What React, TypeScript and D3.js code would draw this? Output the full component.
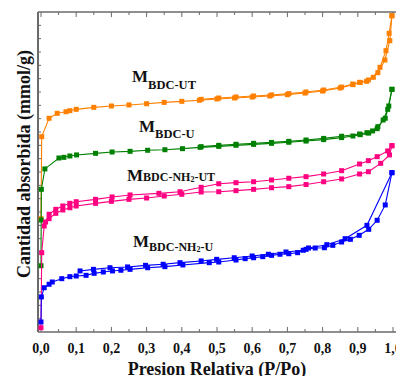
import React from "react";
import * as d3 from "d3";

// isotherm data [P/Po, amount]
const utAds = [[0, 8.5], [0.002, 14.65], [0.023, 16.03], [0.046, 16.4], [0.071, 16.52], [0.082, 16.6], [0.1, 16.7], [0.15, 16.85], [0.2, 16.95], [0.25, 17.03], [0.3, 17.12], [0.35, 17.22], [0.4, 17.3], [0.45, 17.38], [0.5, 17.48], [0.55, 17.55], [0.6, 17.62], [0.65, 17.7], [0.7, 17.8], [0.75, 17.92], [0.8, 18.07], [0.85, 18.3], [0.886, 18.55], [0.907, 18.72], [0.93, 18.9], [0.957, 19.45], [0.977, 20.4], [0.991, 21.85], [0.997, 23.72]];
const utDes = [[0.997, 23.72], [0.989, 22.4], [0.98, 21.1], [0.963, 19.85], [0.944, 19.1], [0.925, 18.8], [0.905, 18.72], [0.886, 18.6], [0.854, 18.37], [0.803, 18.15], [0.753, 18.0], [0.704, 17.88], [0.655, 17.78], [0.604, 17.7], [0.554, 17.63], [0.505, 17.55], [0.455, 17.45]];

const uAds = [[0, 4.97], [0.0005, 8.4], [0.001, 10.7], [0.011, 12.23], [0.051, 13.05], [0.065, 13.1], [0.082, 13.2], [0.101, 13.28], [0.155, 13.4], [0.202, 13.5], [0.253, 13.55], [0.303, 13.63], [0.352, 13.67], [0.402, 13.75], [0.452, 13.85], [0.505, 13.92], [0.554, 14.0], [0.604, 14.07], [0.655, 14.15], [0.704, 14.23], [0.753, 14.32], [0.803, 14.43], [0.854, 14.58], [0.886, 14.7], [0.907, 14.8], [0.931, 14.92], [0.955, 15.25], [0.972, 15.9], [0.985, 16.7], [0.997, 18.2]];
const uDes = [[0.997, 18.2], [0.988, 16.95], [0.978, 16.03], [0.957, 15.4], [0.942, 15.08], [0.926, 14.95], [0.905, 14.85], [0.854, 14.68], [0.803, 14.52], [0.753, 14.4], [0.704, 14.3], [0.655, 14.22], [0.604, 14.15], [0.554, 14.08], [0.505, 14.0], [0.455, 13.9]];

const nh2utAds = [[0, 0.32], [0.002, 5.95], [0.009, 7.95], [0.023, 8.5], [0.042, 8.9], [0.062, 9.15], [0.082, 9.32], [0.1, 9.45], [0.155, 9.65], [0.2, 9.8], [0.25, 9.95], [0.3, 10.05], [0.35, 10.2], [0.4, 10.33], [0.455, 10.5], [0.505, 10.52], [0.554, 10.6], [0.604, 10.7], [0.655, 10.82], [0.704, 10.9], [0.753, 11.06], [0.803, 11.27], [0.854, 11.48], [0.905, 11.85], [0.93, 12.02], [0.965, 12.65], [0.99, 13.28], [0.997, 13.97]];
const nh2utDes = [[0.997, 13.97], [0.985, 13.58], [0.955, 13.15], [0.93, 12.85], [0.905, 12.6], [0.854, 12.1], [0.803, 11.85], [0.753, 11.65], [0.704, 11.53], [0.655, 11.4], [0.604, 11.27], [0.554, 11.2], [0.505, 11.12], [0.455, 10.85], [0.395, 10.52], [0.335, 10.4], [0.253, 10.28], [0.202, 10.13], [0.155, 9.95], [0.1, 9.77], [0.082, 9.65], [0.062, 9.45], [0.042, 9.2], [0.023, 8.83], [0.013, 8.25]];

const nh2uAds = [[0, 0.75], [0.001, 2.63], [0.009, 3.32], [0.023, 3.58], [0.032, 3.75], [0.059, 4.0], [0.082, 4.15], [0.1, 4.2], [0.128, 4.25], [0.151, 4.4], [0.177, 4.5], [0.203, 4.58], [0.227, 4.63], [0.253, 4.7], [0.303, 4.82], [0.352, 4.9], [0.403, 5.03], [0.478, 5.2], [0.505, 5.25], [0.554, 5.4], [0.58, 5.5], [0.604, 5.57], [0.63, 5.65], [0.655, 5.75], [0.679, 5.83], [0.704, 5.87], [0.729, 5.95], [0.753, 6.2], [0.779, 6.3], [0.805, 6.32], [0.829, 6.5], [0.854, 6.75], [0.879, 6.95], [0.904, 7.25], [0.931, 7.7], [0.955, 8.38], [0.978, 9.53], [0.997, 11.95]];
const nh2uDes = [[0.997, 11.95], [0.926, 8.0], [0.864, 7.0], [0.812, 6.55], [0.76, 6.3], [0.745, 6.13], [0.696, 6.0], [0.646, 5.83], [0.6, 5.7], [0.549, 5.57], [0.499, 5.45], [0.455, 5.33], [0.395, 5.2], [0.347, 5.08], [0.297, 5.0], [0.246, 4.88], [0.196, 4.82], [0.149, 4.7], [0.111, 4.58]];

const series = [
  { name: "ut", color: "#FF8000", branches: [utAds, utDes] },
  { name: "u", color: "#008000", branches: [uAds, uDes] },
  { name: "nh2ut", color: "#FF0080", branches: [nh2utAds, nh2utDes] },
  { name: "nh2u", color: "#0000FF", branches: [nh2uAds, nh2uDes] },
];

const xTicks = [0, 0.1, 0.2, 0.3, 0.4, 0.5, 0.6, 0.7, 0.8, 0.9, 1.0];

const W = 396;
const H = 376;

export default function App() {
  const x = d3.scaleLinear().domain([0, 1]).range([41, 393]);
  const y = d3.scaleLinear().domain([0, 24]).range([332, 12]);
  const left = x(-0.0085);
  const right = x(1.012);
  const top = y(24);
  const bottom = y(0);

  const line = d3
    .line<number[]>()
    .x((d) => x(d[0]))
    .y((d) => y(d[1]));

  const minorX = d3.range(0, 21).map((i) => i * 0.05);
  const yTicks = d3.range(1, 24);
  const axisColor = "#6a6a6a";
  const font = "'Liberation Serif', 'Times New Roman', serif";

  return (
    <svg
      width={W}
      height={H}
      style={{ position: "absolute", left: 0, top: 0, background: "#fff" }}
      fontFamily={font}
    >
      {/* frame */}
      <line x1={left} x2={right} y1={top} y2={top} stroke={axisColor} strokeWidth={1.5} />
      <line x1={left} x2={right} y1={bottom} y2={bottom} stroke={axisColor} strokeWidth={1.5} />
      <line x1={left} x2={left} y1={top} y2={bottom} stroke={axisColor} strokeWidth={2} />

      {/* x ticks, inward */}
      {minorX.map((t, i) => {
        const major = i % 2 === 0;
        const len = major ? 5 : 3;
        return (
          <g key={"xt" + i}>
            <line x1={x(t)} x2={x(t)} y1={bottom} y2={bottom - len} stroke={axisColor} strokeWidth={1} />
            <line x1={x(t)} x2={x(t)} y1={top} y2={top + len} stroke={axisColor} strokeWidth={1} />
          </g>
        );
      })}
      {/* y ticks, inward */}
      {yTicks.map((t) => (
        <line key={"yt" + t} x1={left} x2={left + 3} y1={y(t)} y2={y(t)} stroke={axisColor} strokeWidth={1} />
      ))}

      {/* tick labels */}
      {xTicks.map((t) => (
        <text
          key={"xl" + t}
          x={x(t)}
          y={353}
          textAnchor="middle"
          fontSize={14}
          fontWeight="bold"
          fill="#111"
        >
          {t.toFixed(1).replace(".", ",")}
        </text>
      ))}

      {/* series */}
      {series.map((s) => (
        <g key={s.name}>
          {s.branches.map((b, bi) => (
            <path key={bi} d={line(b) || ""} fill="none" stroke={s.color} strokeWidth={1.1} />
          ))}
          {s.branches.map((b, bi) =>
            b.map((d, i) => (
              <rect
                key={bi + "-" + i}
                x={x(d[0]) - 2.5}
                y={y(d[1]) - 2.5}
                width={5}
                height={5}
                fill={s.color}
              />
            ))
          )}
        </g>
      ))}

      {/* annotations */}
      <text x={132} y={82} fontWeight="bold" fill="#111">
        <tspan fontSize={17}>M</tspan>
        <tspan fontSize={12.5} dy={7}>BDC-UT</tspan>
      </text>
      <text x={139} y={132} fontWeight="bold" fill="#111">
        <tspan fontSize={17}>M</tspan>
        <tspan fontSize={12.5} dy={5.5}>BDC-U</tspan>
      </text>
      <text x={127} y={181} fontWeight="bold" fill="#111">
        <tspan fontSize={17}>M</tspan>
        <tspan fontSize={12}>BDC-NH</tspan>
        <tspan fontSize={8} dy={1}>2</tspan>
        <tspan fontSize={12} dy={-1}>-UT</tspan>
      </text>
      <text x={133} y={247} fontWeight="bold" fill="#111">
        <tspan fontSize={17}>M</tspan>
        <tspan fontSize={12} dy={4}>BDC-NH</tspan>
        <tspan fontSize={8} dy={1}>2</tspan>
        <tspan fontSize={12} dy={-1}>-U</tspan>
      </text>

      {/* axis titles */}
      <text
        x={217}
        y={375}
        textAnchor="middle"
        fontSize={18}
        fontWeight="bold"
        fill="#111"
      >
        Presion Relativa (P/Po)
      </text>
      <text
        transform={`translate(30,164) rotate(-90)`}
        textAnchor="middle"
        fontSize={18}
        fontWeight="bold"
        fill="#111"
      >
        Cantidad absorbida (mmol/g)
      </text>
    </svg>
  );
}
